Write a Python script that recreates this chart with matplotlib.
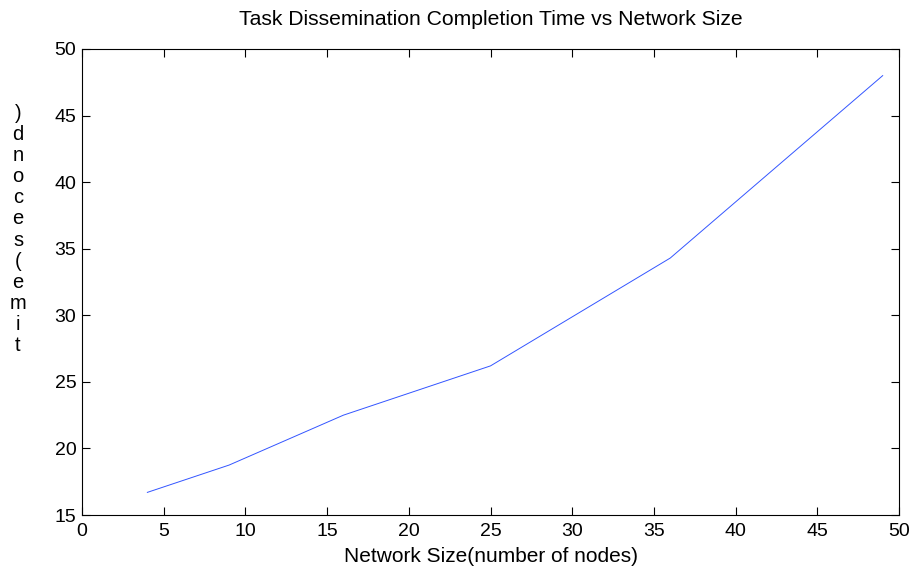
import matplotlib
matplotlib.use('Agg')
import matplotlib.pyplot as plt

plt.rcParams['font.family'] = ['Liberation Sans', 'DejaVu Sans']

network_size = [4, 9, 16, 25, 36, 49]
completion_time = [16.7, 18.75, 22.5, 26.2, 34.3, 48.0]

x_ticks = list(range(0, 51, 5))
y_ticks = list(range(15, 51, 5))

fig = plt.figure(figsize=(9.13, 5.73), dpi=100)
ax = fig.add_axes([0.0898, 0.1012, 0.8949, 0.8133])

ax.plot(network_size, completion_time, color='#3355ff', linewidth=0.7)

ax.set_xlim(0, 50)
ax.set_ylim(15, 50)
ax.set_xticks(x_ticks)
ax.set_yticks(y_ticks)
ax.tick_params(direction='in', top=True, right=True, labelsize=14, length=6)
ax.tick_params(axis='x', pad=6)
ax.tick_params(axis='y', pad=4)
for s in ax.spines.values():
    s.set_linewidth(0.8)

ax.set_title('Task Dissemination Completion Time vs Network Size', fontsize=15.2, pad=17)
ax.set_xlabel('Network Size(number of nodes)', fontsize=15, labelpad=5)

# y label drawn as stacked characters, reversed like in the original
label = 'time(second)'
fig.text(18 / 913, 1 - 104 / 573, '\n'.join(reversed(label)), fontsize=14.5,
         ha='center', va='top', linespacing=1.14)

fig.savefig('out.png', dpi=100)
